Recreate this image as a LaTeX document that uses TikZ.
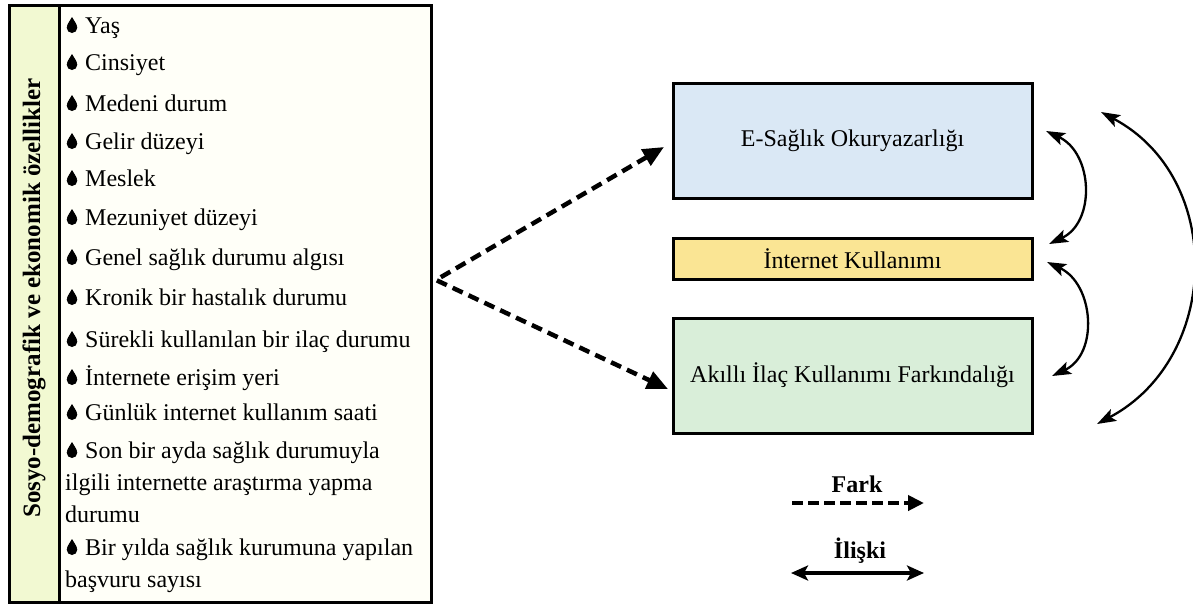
\documentclass[tikz,border=0pt]{standalone}
\usepackage{fontspec}
\setmainfont{Liberation Serif}
\usetikzlibrary{arrows.meta}
\definecolor{stripc}{HTML}{F2F9D2}
\definecolor{listc}{HTML}{FFFFF8}
\definecolor{blueb}{HTML}{DAE8F5}
\definecolor{yellb}{HTML}{FAE594}
\definecolor{greenb}{HTML}{D9EED9}
\begin{document}
\begin{tikzpicture}[x=1pt,y=-1pt,
  itemtxt/.style={anchor=base west, inner sep=0pt, font=\fontsize{24}{29}\selectfont},
  cbox/.style={draw, line width=3pt, inner sep=0pt, minimum width=359pt, font=\fontsize{24}{29}\selectfont},
  fark/.style={line width=4.5pt, dash pattern=on 11pt off 6.5pt, miter limit=20, {Triangle[length=21pt,width=18pt]}-{Triangle[length=21pt,width=18pt]}},
  rel/.style={line width=2.3pt, {Stealth[length=19pt,width=13pt,inset=4pt]}-{Stealth[length=19pt,width=13pt,inset=4pt]}},
  legfark/.style={line width=4pt, dash pattern=on 11pt off 5pt, -{Triangle[length=16pt,width=15pt]}},
  legrel/.style={line width=4pt, {Stealth[length=17pt,width=15pt,inset=4pt]}-{Stealth[length=17pt,width=15pt,inset=4pt]}},
  legtxt/.style={font=\bfseries\fontsize{24}{29}\selectfont, inner sep=0pt},
  tdrop/.pic={
    \fill (0,-16) .. controls (1.5,-12.5) and (4.3,-10.5) .. (5,-6.5) -- (-5,-6.5) .. controls (-4.3,-10.5) and (-1.5,-12.5) .. cycle;
    \fill (0,-5.3) circle (5.3pt);
  }]
\useasboundingbox (0,0) rectangle (1193,603);
\fill[white] (0,0) rectangle (1193,603);
% left table
\node[draw, line width=3.2pt, fill=listc, anchor=north west, inner sep=0pt, minimum width=422pt, minimum height=597pt] (list) at (8,4) {};
\node[draw, line width=3.2pt, fill=stripc, anchor=north west, inner sep=0pt, minimum width=50pt, minimum height=597pt] (strip) at (8,4) {};
\node[rotate=90, font=\bfseries\fontsize{25}{30}\selectfont, inner sep=0pt] (lab) at (34,298) {Sosyo-demografik ve ekonomik özellikler};
% items
\foreach \yy/\name/\txt in {33/i1/Yaş, 70/i2/Cinsiyet, 111/i3/Medeni durum, 149/i4/Gelir düzeyi, 186/i5/Meslek, 225/i6/Mezuniyet düzeyi, 265/i7/Genel sağlık durumu algısı, 305/i8/Kronik bir hastalık durumu, 347/i9/Sürekli kullanılan bir ilaç durumu, 385/i10/İnternete erişim yeri, 420/i11/Günlük internet kullanım saati, 458/i12/Son bir ayda sağlık durumuyla, 555/i13/Bir yılda sağlık kurumuna yapılan}{
  \pic at (72,\yy) {tdrop};
  \node[itemtxt] (\name) at (85,\yy) {\txt};
}
\node[itemtxt] (i12b) at (65,490) {ilgili internette araştırma yapma};
\node[itemtxt] (i12c) at (65,522) {durumu};
\node[itemtxt] (i13b) at (65,587) {başvuru sayısı};
% right boxes
\node[cbox, fill=blueb, minimum height=115pt] (E) at (852.5,140.5) {E-Sağlık Okuryazarlığı};
\node[cbox, fill=yellb, minimum height=41pt] (I) at (852.5,258.5) {İnternet Kullanımı};
\node[cbox, fill=greenb, minimum height=115pt] (A) at (852.5,375.5) {Akıllı İlaç Kullanımı Farkındalığı};
% dashed arrows
\coordinate (src) at (436,280);
\coordinate (eT) at (664,147);
\coordinate (aT) at (668,389);
\draw[fark] (eT) -- (src) -- (aT);
% curved relations
\coordinate (r1a) at (1046,131);
\coordinate (r1b) at (1049,244);
\coordinate (r2a) at (1047,262);
\coordinate (r2b) at (1052,376);
\coordinate (r3a) at (1101,112);
\coordinate (r3b) at (1097,424);
\draw[rel] (r1a) .. controls +(47,22) and +(47,-22) .. (r1b);
\draw[rel] (r2a) .. controls +(47,22) and +(47,-22) .. (r2b);
\draw[rel] (r3a) .. controls +(124,66) and +(124,-66) .. (r3b);
% legend
\node[legtxt] (fk) at (857,484) {Fark};
\coordinate (fs) at (792,503);
\coordinate (fe) at (924,503);
\draw[legfark] (fs) -- (fe);
\node[legtxt] (il) at (860,551) {İlişki};
\coordinate (is) at (791,573);
\coordinate (ie) at (924,573);
\draw[legrel] (is) -- (ie);
\end{tikzpicture}
\end{document}
